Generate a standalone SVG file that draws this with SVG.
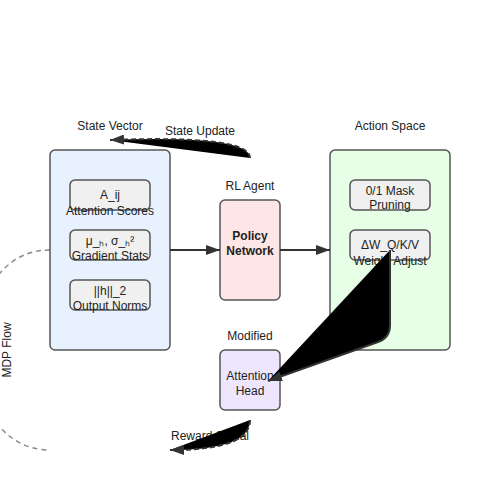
<svg xmlns="http://www.w3.org/2000/svg" width="500" height="500" viewBox="0 0 500 500">
<defs>
<style>
text{font-family:"Liberation Sans",Arial,sans-serif;font-size:12px;fill:#222;text-anchor:middle}
.bold{font-weight:bold}
.container{stroke:#555;stroke-width:1.5}
.item{fill:#f0f0f0;stroke:#555;stroke-width:1.5}
.conn{stroke:#333;stroke-width:2}
.dash{stroke-dasharray:5,3}
</style>
<marker id="arrow" markerUnits="userSpaceOnUse" markerWidth="14" markerHeight="10" refX="14" refY="5" orient="auto">
<path d="M0,0 L14,5 L0,10 z" fill="#333"/>
</marker>
</defs>
<rect width="500" height="500" fill="#fff"/>

<g id="mdp-flow">
<path d="M 50 250 C -50 250 -50 450 50 450" fill="none" stroke="#888" stroke-width="1.5" stroke-dasharray="5,4"/>
<text transform="translate(11,350) rotate(-90)">MDP Flow</text>
</g>

<g id="state-vector">
<text x="110" y="130">State Vector</text>
<rect class="container" x="50" y="150" width="120" height="200" rx="5" fill="#e8f2ff"/>
</g>
<g id="attention-scores">
<rect class="item" x="70" y="180" width="80" height="30" rx="5"/>
<text x="110" y="199">A_ij</text>
<text x="110" y="215">Attention Scores</text>
</g>
<g id="gradient-stats">
<rect class="item" x="70" y="230" width="80" height="30" rx="5"/>
<text x="110" y="245">μ_ₕ, σ_ₕ²</text>
<text x="110" y="260">Gradient Stats</text>
</g>
<g id="output-norms">
<rect class="item" x="70" y="280" width="80" height="30" rx="5"/>
<text x="110" y="295">||h||_2</text>
<text x="110" y="310">Output Norms</text>
</g>

<g id="policy-network">
<text x="250" y="190">RL Agent</text>
<rect x="220" y="200" width="60" height="100" rx="5" fill="#ffe6e6" stroke="#555" stroke-width="1.5"/>
<text class="bold" x="250" y="240">Policy</text>
<text class="bold" x="250" y="255">Network</text>
</g>

<g id="action-space">
<text x="390" y="130">Action Space</text>
<rect class="container" x="330" y="150" width="120" height="200" rx="5" fill="#e6ffe6"/>
</g>
<g id="mask-pruning">
<rect class="item" x="350" y="180" width="80" height="30" rx="5"/>
<text x="390" y="195">0/1 Mask</text>
<text x="390" y="209">Pruning</text>
</g>
<g id="weight-adjust">
<rect class="item" x="350" y="230" width="80" height="30" rx="5"/>
<text x="390" y="249">ΔW_Q/K/V</text>
<text x="390" y="265">Weight Adjust</text>
</g>

<g id="attention-head">
<text x="250" y="340">Modified</text>
<rect x="220" y="350" width="60" height="60" rx="5" fill="#eee6ff" stroke="#555" stroke-width="1.5"/>
<text x="250" y="380">Attention</text>
<text x="250" y="395">Head</text>
</g>

<g id="labels">
<text x="200" y="135">State Update</text>
<text x="210" y="440">Reward Signal</text>
</g>

<g id="connectors">
<line class="conn" x1="170" y1="250" x2="220" y2="250" marker-end="url(#arrow)"/>
<line class="conn" x1="280" y1="250" x2="330" y2="250" marker-end="url(#arrow)"/>
<path class="conn" d="M 390 250 L 390 325 Q 390 338 378 342 L 268 381" marker-end="url(#arrow)"/>
<path class="conn dash" d="M 250 158 Q 250 135 110 140" marker-end="url(#arrow)"/>
<path class="conn dash" d="M 250 420 Q 250 450 170 450" marker-end="url(#arrow)"/>
</g>
</svg>
